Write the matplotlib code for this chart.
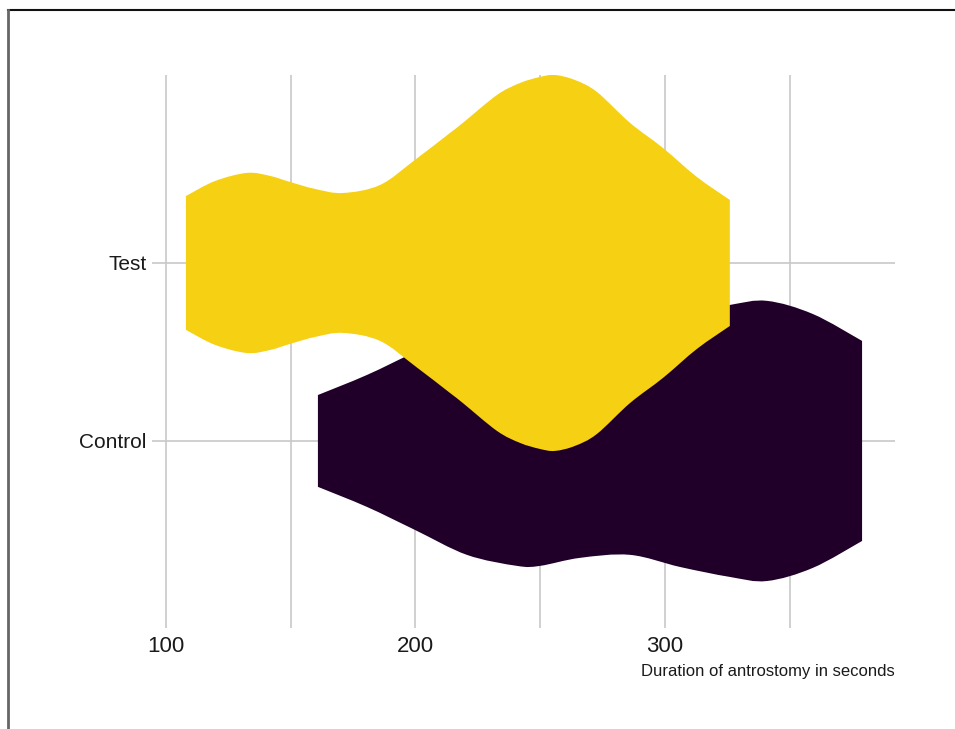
import numpy as np
import matplotlib
matplotlib.use("Agg")
import matplotlib.pyplot as plt
from matplotlib.lines import Line2D
from matplotlib.path import Path
from matplotlib.patches import PathPatch

# Violin outlines: duration (s) and half-width (category units)
test_sec = [108.0, 119.6, 132.5, 141.7, 149.7, 159.7, 170.9, 185.8, 199.8, 213.8,
            219.0, 232.7, 241.9, 249.9, 255.9, 263.9, 272.7, 286.0, 299.2, 312.8, 326.0]
test_half = [0.376, 0.46, 0.506, 0.489, 0.455, 0.416, 0.393, 0.438, 0.579, 0.730,
             0.787, 0.944, 1.011, 1.045, 1.056, 1.028, 0.961, 0.787, 0.646, 0.483, 0.354]

control_sec = [160.9, 180.6, 199.8, 220.6, 240.7, 249.9, 265.9, 286.0, 306.0, 326.0,
               340.9, 359.3, 379.0]
control_half = [0.258, 0.371, 0.500, 0.640, 0.702, 0.702, 0.657, 0.640, 0.708, 0.764,
                0.787, 0.713, 0.562]

groups = ["Control", "Test"]
colors = {"Control": "#200028", "Test": "#F6D012"}

FONT = ["Liberation Sans Narrow", "Liberation Sans", "DejaVu Sans"]


def smooth_edge(xs, ys):
    # catmull-rom through the points, as cubic bezier segments
    p = np.column_stack([xs, ys])
    ext = np.vstack([p[0], p, p[-1]])
    verts, codes = [], []
    for i in range(1, len(ext) - 2):
        p0, p1, p2, p3 = ext[i - 1], ext[i], ext[i + 1], ext[i + 2]
        verts += [p1 + (p2 - p0) / 6, p2 - (p3 - p1) / 6, p2]
        codes += [Path.CURVE4] * 3
    return p[0], verts, codes


def violin(ax, xs, half, center, color, z):
    xs = np.array(xs)
    half = np.array(half)
    start, v_top, c_top = smooth_edge(xs, center + half)
    _, v_bot, c_bot = smooth_edge(xs[::-1], center - half[::-1])
    verts = [start] + v_top + [(xs[-1], center - half[-1])] + v_bot + [start]
    codes = [Path.MOVETO] + c_top + [Path.LINETO] + c_bot + [Path.CLOSEPOLY]
    ax.add_patch(PathPatch(Path(verts, codes), facecolor=color, edgecolor="none", zorder=z))


fig = plt.figure(figsize=(9.55, 7.29), dpi=100)
ax = fig.add_axes([152 / 955, 1 - 628 / 729, (895 - 152) / 955, (628 - 75) / 729])

violin(ax, control_sec, control_half, 1, colors["Control"], 2)
violin(ax, test_sec, test_half, 2, colors["Test"], 3)

ax.set_xlim(94.4, 392.2)
ax.set_ylim(-0.051, 3.056)
ax.set_xticks([100, 200, 300])
ax.set_xticks([150, 250, 350], minor=True)
ax.set_yticks([1, 2])
ax.set_yticklabels(groups, family=FONT, fontsize=15)
ax.set_xticklabels(["100", "200", "300"], family=FONT, fontsize=16)
ax.tick_params(axis="x", length=0, pad=6, colors="#1a1a1a", which="both")
ax.tick_params(axis="y", length=0, pad=4, colors="#1a1a1a")
ax.grid(True, which="both", color="#c8c8c8", linewidth=1.2, zorder=0)
ax.set_axisbelow(True)
for s in ax.spines.values():
    s.set_visible(False)

ax.set_xlabel("Duration of antrostomy in seconds", family=FONT, fontsize=12,
              color="#1a1a1a")
ax.xaxis.set_label_coords(1.0, -0.065)
ax.xaxis.label.set_horizontalalignment("right")

# screenshot frame
fig.add_artist(Line2D([7.5 / 955, 1], [1 - 10 / 729, 1 - 10 / 729], color="#111111",
                      linewidth=1.5, transform=fig.transFigure))
fig.add_artist(Line2D([7.5 / 955, 7.5 / 955], [0, 1 - 10 / 729], color="#666666",
                      linewidth=2, transform=fig.transFigure))

fig.savefig("out.png", dpi=100)
